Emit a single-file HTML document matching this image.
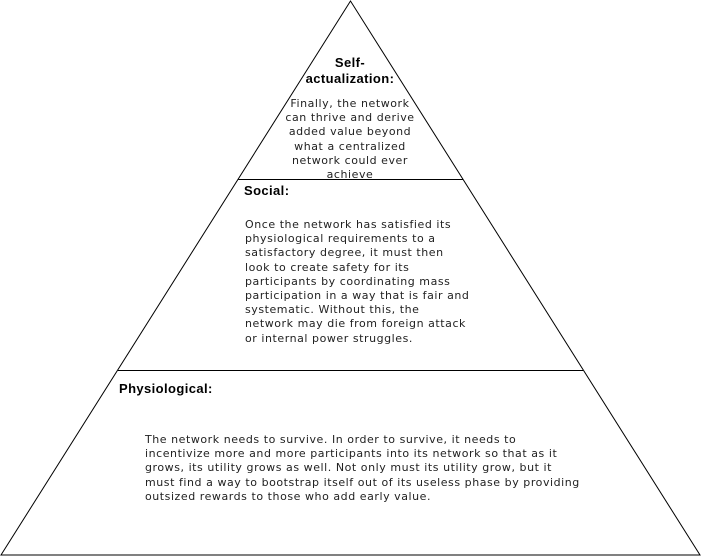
<!DOCTYPE html>
<html><head><style>
body{margin:0;width:701px;height:556px;background:#fff;position:relative;overflow:hidden}
.h{position:absolute;font:bold 13px "Liberation Sans",sans-serif;letter-spacing:0.4px;color:#000;white-space:pre;line-height:16px}
.t{position:absolute;font:11px "DejaVu Sans",sans-serif;letter-spacing:0.55px;color:#222;white-space:pre;line-height:14.2px}
</style></head><body>
<svg width="701" height="556" style="position:absolute;left:0;top:0">
<polygon points="350.5,1 1,555 700,555" fill="#fff" stroke="#000" stroke-width="1"/>
<line x1="238.5" y1="179.5" x2="463" y2="179.5" stroke="#000"/>
<line x1="118" y1="370.5" x2="583" y2="370.5" stroke="#000"/>
</svg>
<div class="h" style="left:250px;top:55px;width:200px;text-align:center">Self-
actualization:</div>
<div class="t" style="left:250px;top:97px;width:200px;text-align:center">Finally, the network
can thrive and derive
added value beyond
what a centralized
network could ever
achieve</div>
<div class="h" style="left:244px;top:183px">Social:</div>
<div class="t" style="left:245px;top:218px">Once the network has satisfied its
physiological requirements to a
satisfactory degree, it must then
look to create safety for its
participants by coordinating mass
participation in a way that is fair and
systematic. Without this, the
network may die from foreign attack
or internal power struggles.</div>
<div class="h" style="left:119px;top:381px">Physiological:</div>
<div class="t" style="left:145px;top:433px">The network needs to survive. In order to survive, it needs to
incentivize more and more participants into its network so that as it
grows, its utility grows as well. Not only must its utility grow, but it
must find a way to bootstrap itself out of its useless phase by providing
outsized rewards to those who add early value.</div>
</body></html>
